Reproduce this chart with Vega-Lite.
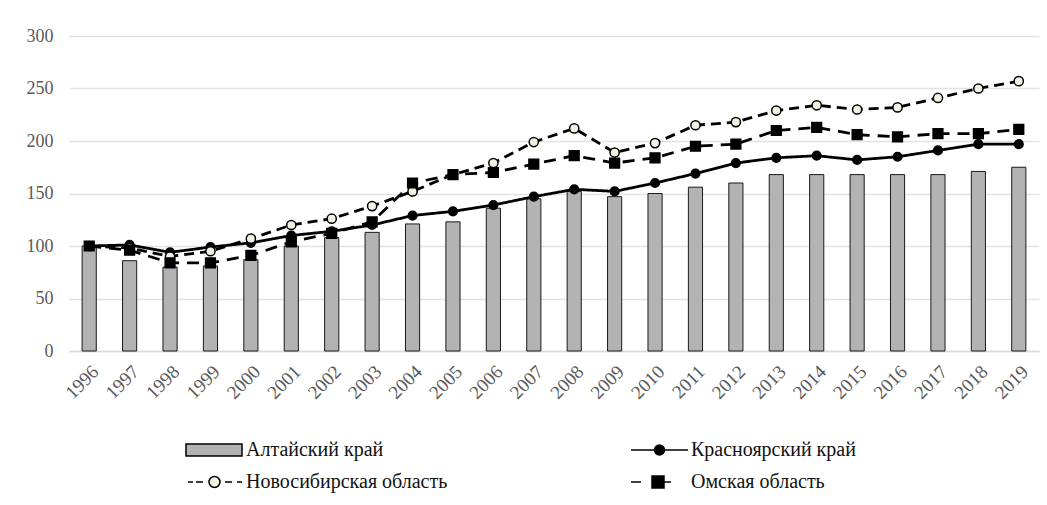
{
  "$schema": "https://vega.github.io/schema/vega-lite/v6.json",
  "width": 970,
  "height": 315,
  "autosize": {"type": "none"},
  "padding": {"left": 69, "top": 36, "right": 8, "bottom": 154},
  "background": "white",
  "config": {
    "view": {"stroke": null},
    "font": "Liberation Serif",
    "axis": {"labelFont": "Liberation Serif", "labelColor": "#595959", "labelFontSize": 18, "title": null, "ticks": false, "gridColor": "#e3e3e3", "gridWidth": 1.3}
  },
  "data": {"values": [
    {"year": "1996", "region": "Алтайский край", "value": 100},
    {"year": "1997", "region": "Алтайский край", "value": 86},
    {"year": "1998", "region": "Алтайский край", "value": 80},
    {"year": "1999", "region": "Алтайский край", "value": 81},
    {"year": "2000", "region": "Алтайский край", "value": 87},
    {"year": "2001", "region": "Алтайский край", "value": 100},
    {"year": "2002", "region": "Алтайский край", "value": 108},
    {"year": "2003", "region": "Алтайский край", "value": 113},
    {"year": "2004", "region": "Алтайский край", "value": 121},
    {"year": "2005", "region": "Алтайский край", "value": 123},
    {"year": "2006", "region": "Алтайский край", "value": 136},
    {"year": "2007", "region": "Алтайский край", "value": 145},
    {"year": "2008", "region": "Алтайский край", "value": 152},
    {"year": "2009", "region": "Алтайский край", "value": 147},
    {"year": "2010", "region": "Алтайский край", "value": 150},
    {"year": "2011", "region": "Алтайский край", "value": 156},
    {"year": "2012", "region": "Алтайский край", "value": 160},
    {"year": "2013", "region": "Алтайский край", "value": 168},
    {"year": "2014", "region": "Алтайский край", "value": 168},
    {"year": "2015", "region": "Алтайский край", "value": 168},
    {"year": "2016", "region": "Алтайский край", "value": 168},
    {"year": "2017", "region": "Алтайский край", "value": 168},
    {"year": "2018", "region": "Алтайский край", "value": 171},
    {"year": "2019", "region": "Алтайский край", "value": 175},
    {"year": "1996", "region": "Красноярский край", "value": 100},
    {"year": "1997", "region": "Красноярский край", "value": 101},
    {"year": "1998", "region": "Красноярский край", "value": 94},
    {"year": "1999", "region": "Красноярский край", "value": 99},
    {"year": "2000", "region": "Красноярский край", "value": 103},
    {"year": "2001", "region": "Красноярский край", "value": 110},
    {"year": "2002", "region": "Красноярский край", "value": 114},
    {"year": "2003", "region": "Красноярский край", "value": 120},
    {"year": "2004", "region": "Красноярский край", "value": 129},
    {"year": "2005", "region": "Красноярский край", "value": 133},
    {"year": "2006", "region": "Красноярский край", "value": 139},
    {"year": "2007", "region": "Красноярский край", "value": 147},
    {"year": "2008", "region": "Красноярский край", "value": 154},
    {"year": "2009", "region": "Красноярский край", "value": 152},
    {"year": "2010", "region": "Красноярский край", "value": 160},
    {"year": "2011", "region": "Красноярский край", "value": 169},
    {"year": "2012", "region": "Красноярский край", "value": 179},
    {"year": "2013", "region": "Красноярский край", "value": 184},
    {"year": "2014", "region": "Красноярский край", "value": 186},
    {"year": "2015", "region": "Красноярский край", "value": 182},
    {"year": "2016", "region": "Красноярский край", "value": 185},
    {"year": "2017", "region": "Красноярский край", "value": 191},
    {"year": "2018", "region": "Красноярский край", "value": 197},
    {"year": "2019", "region": "Красноярский край", "value": 197},
    {"year": "1996", "region": "Новосибирская область", "value": 100},
    {"year": "1997", "region": "Новосибирская область", "value": 98},
    {"year": "1998", "region": "Новосибирская область", "value": 90},
    {"year": "1999", "region": "Новосибирская область", "value": 95},
    {"year": "2000", "region": "Новосибирская область", "value": 107},
    {"year": "2001", "region": "Новосибирская область", "value": 120},
    {"year": "2002", "region": "Новосибирская область", "value": 126},
    {"year": "2003", "region": "Новосибирская область", "value": 138},
    {"year": "2004", "region": "Новосибирская область", "value": 152},
    {"year": "2005", "region": "Новосибирская область", "value": 168},
    {"year": "2006", "region": "Новосибирская область", "value": 179},
    {"year": "2007", "region": "Новосибирская область", "value": 199},
    {"year": "2008", "region": "Новосибирская область", "value": 212},
    {"year": "2009", "region": "Новосибирская область", "value": 189},
    {"year": "2010", "region": "Новосибирская область", "value": 198},
    {"year": "2011", "region": "Новосибирская область", "value": 215},
    {"year": "2012", "region": "Новосибирская область", "value": 218},
    {"year": "2013", "region": "Новосибирская область", "value": 229},
    {"year": "2014", "region": "Новосибирская область", "value": 234},
    {"year": "2015", "region": "Новосибирская область", "value": 230},
    {"year": "2016", "region": "Новосибирская область", "value": 232},
    {"year": "2017", "region": "Новосибирская область", "value": 241},
    {"year": "2018", "region": "Новосибирская область", "value": 250},
    {"year": "2019", "region": "Новосибирская область", "value": 257},
    {"year": "1996", "region": "Омская область", "value": 100},
    {"year": "1997", "region": "Омская область", "value": 96},
    {"year": "1998", "region": "Омская область", "value": 84},
    {"year": "1999", "region": "Омская область", "value": 84},
    {"year": "2000", "region": "Омская область", "value": 91},
    {"year": "2001", "region": "Омская область", "value": 104},
    {"year": "2002", "region": "Омская область", "value": 112},
    {"year": "2003", "region": "Омская область", "value": 123},
    {"year": "2004", "region": "Омская область", "value": 160},
    {"year": "2005", "region": "Омская область", "value": 168},
    {"year": "2006", "region": "Омская область", "value": 170},
    {"year": "2007", "region": "Омская область", "value": 178},
    {"year": "2008", "region": "Омская область", "value": 186},
    {"year": "2009", "region": "Омская область", "value": 179},
    {"year": "2010", "region": "Омская область", "value": 184},
    {"year": "2011", "region": "Омская область", "value": 195},
    {"year": "2012", "region": "Омская область", "value": 197},
    {"year": "2013", "region": "Омская область", "value": 210},
    {"year": "2014", "region": "Омская область", "value": 213},
    {"year": "2015", "region": "Омская область", "value": 206},
    {"year": "2016", "region": "Омская область", "value": 204},
    {"year": "2017", "region": "Омская область", "value": 207},
    {"year": "2018", "region": "Омская область", "value": 207},
    {"year": "2019", "region": "Омская область", "value": 211}
  ]},
  "encoding": {
    "x": {"field": "year", "type": "ordinal", "scale": {"paddingInner": 0, "paddingOuter": 0}, "axis": {"labelAngle": -45, "labelPadding": 11, "labelFontSize": 19, "domainColor": "#d9d9d9", "domainWidth": 1.3, "grid": false}},
    "y": {"field": "value", "type": "quantitative", "scale": {"domain": [0, 300]}, "axis": {"values": [0, 50, 100, 150, 200, 250, 300], "domain": false, "labelPadding": 16}}
  },
  "resolve": {"scale": {"shape": "independent", "fill": "independent"}},
  "layer": [
    {
      "transform": [{"filter": "datum.region === 'Алтайский край'"}],
      "mark": {"type": "bar", "width": {"band": 0.35}, "stroke": "#1a1a1a", "strokeWidth": 1, "color": "#b3b3b3"}
    },
    {
      "transform": [{"filter": "datum.region !== 'Алтайский край'"}],
      "mark": {"type": "line", "strokeWidth": 2.8, "color": "#000000"},
      "encoding": {
        "strokeDash": {"field": "region", "type": "nominal", "scale": {"domain": ["Красноярский край", "Новосибирская область", "Омская область"], "range": [[1, 0], [10, 6], [12, 8]]}, "legend": null}
      }
    },
    {
      "transform": [{"filter": "datum.region !== 'Алтайский край'"}],
      "mark": {"type": "point", "filled": true, "stroke": "#000000", "strokeWidth": 1.5, "opacity": 1},
      "encoding": {
        "shape": {"field": "region", "type": "nominal", "scale": {"domain": ["Красноярский край", "Новосибирская область", "Омская область"], "range": ["circle", "circle", "square"]}, "legend": null},
        "fill": {"field": "region", "type": "nominal", "scale": {"domain": ["Красноярский край", "Новосибирская область", "Омская область"], "range": ["#000000", "#f2f2e0", "#000000"]}, "legend": null},
        "size": {"field": "region", "type": "nominal", "scale": {"domain": ["Красноярский край", "Новосибирская область", "Омская область"], "range": [75, 95, 160]}, "legend": null}
      }
    },
    {
      "mark": {"type": "point", "filled": true, "stroke": "#000000", "opacity": 0},
      "encoding": {
        "shape": {"field": "region", "type": "nominal",
          "scale": {"domain": ["Алтайский край", "Красноярский край", "Новосибирская область", "Омская область"],
            "range": ["M-1,-0.6H4.6V0.6H-1Z", "M-1,0H4.7M1.35,0A0.5,0.5 0 1,0 2.35,0A0.5,0.5 0 1,0 1.35,0Z", "M-0.8,0H-0.3M0,0H0.7M2.9,0H3.6M4.1,0H4.6M1.3,0A0.55,0.55 0 1,0 2.4,0A0.55,0.55 0 1,0 1.3,0Z", "M-1,0H0M1.7,0H3M1.1,-0.6H2.3V0.6H1.1Z"]},
          "legend": {"title": null, "orient": "none", "legendX": 116, "legendY": 403, "columns": 2, "direction": "horizontal", "symbolSize": 400, "symbolOpacity": 1, "labelFont": "Liberation Serif", "labelFontSize": 20, "labelColor": "#111111", "labelLimit": 400, "labelOffset": 39, "columnPadding": 180, "rowPadding": 11,
            "encode": {"symbols": {"stroke": {"value": "#000000"}, "strokeWidth": {"value": 2.3}}}}
        },
        "fill": {"field": "region", "type": "nominal",
          "scale": {"domain": ["Алтайский край", "Красноярский край", "Новосибирская область", "Омская область"], "range": ["#b3b3b3", "#000000", "#f2f2e0", "#000000"]},
          "legend": {"title": null, "orient": "none", "legendX": 116, "legendY": 403, "columns": 2, "direction": "horizontal", "symbolSize": 400, "symbolOpacity": 1, "labelFont": "Liberation Serif", "labelFontSize": 20, "labelColor": "#111111", "labelLimit": 400, "labelOffset": 39, "columnPadding": 180, "rowPadding": 11,
            "encode": {"symbols": {"stroke": {"value": "#000000"}, "strokeWidth": {"value": 2.3}}}}
        }
      }
    }
  ]
}
